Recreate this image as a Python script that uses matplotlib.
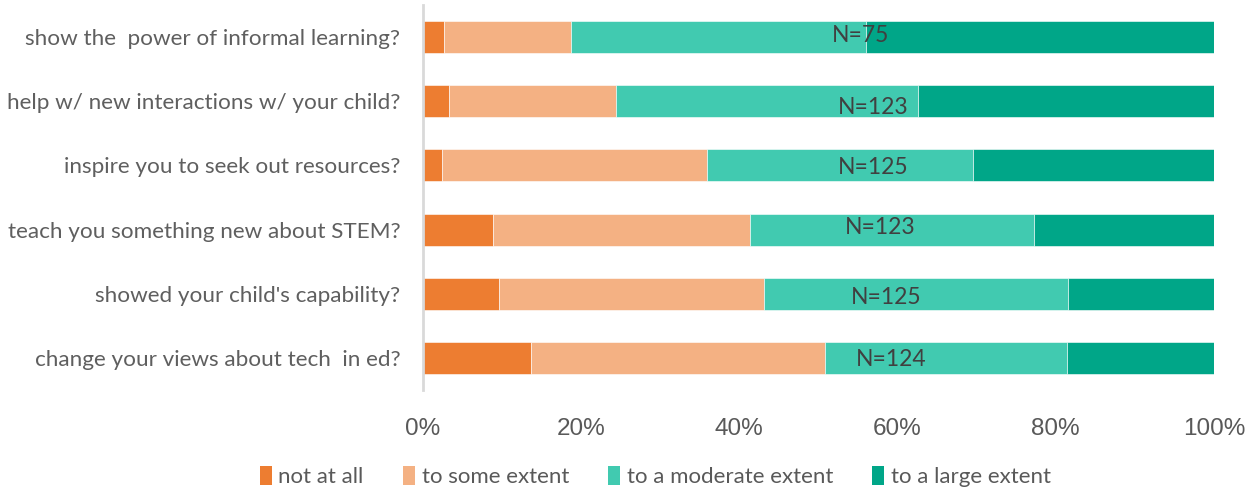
import matplotlib
matplotlib.use("Agg")
import matplotlib.pyplot as plt
from matplotlib.patches import Patch

questions = [
    "show the  power of informal learning?",
    "help w/ new interactions w/ your child?",
    "inspire you to seek out resources?",
    "teach you something new about STEM?",
    "showed your child's capability?",
    "change your views about tech  in ed?",
]
categories = ["not at all", "to some extent", "to a moderate extent", "to a large extent"]
not_at_all = [2.7, 3.3, 2.4, 8.9, 9.6, 13.7]
some_extent = [16.0, 21.1, 33.6, 32.5, 33.6, 37.1]
moderate_extent = [37.3, 38.2, 33.6, 35.8, 38.4, 30.6]
large_extent = [44.0, 37.4, 30.4, 22.8, 18.4, 18.6]
n_labels = ["N=75", "N=123", "N=125", "N=123", "N=125", "N=124"]
n_label_x = [55.3, 57.0, 57.0, 57.8, 58.6, 59.2]
n_label_dy = [-0.03, 0.09, 0.03, -0.03, 0.06, 0.02]
ticks = [0, 20, 40, 60, 80, 100]

colors = ["#ED7D31", "#F4B183", "#41CAB0", "#00A688"]
series = [not_at_all, some_extent, moderate_extent, large_extent]

fig = plt.figure(figsize=(12.55, 4.93), dpi=100)
ax = fig.add_axes([0.3367, 0.2089, 0.9673 - 0.3367, 0.9899 - 0.2089])

ypos = list(range(len(questions)))
left = [0.0] * len(questions)
for vals, col, name in zip(series, colors, categories):
    ax.barh(ypos, vals, left=left, height=0.5, color=col, label=name,
            edgecolor="white", linewidth=0.4)
    left = [l + v for l, v in zip(left, vals)]

for y, lab, x, dy in zip(ypos, n_labels, n_label_x, n_label_dy):
    ax.text(x, y + dy, lab, ha="center", va="center", fontsize=16.5,
            color="#404040", family="Lato")

ax.set_xlim(0, 100)
ax.set_ylim(5.5, -0.5)
ax.set_yticks(ypos)
ax.set_yticklabels(questions, family="Lato", fontsize=16.2, color="#5F5F5F")
ax.set_xticks(ticks)
ax.set_xticklabels([f"{t}%" for t in ticks], family="Liberation Sans",
                   fontsize=17.5, color="#595959")
ax.tick_params(axis="both", length=0)
ax.tick_params(axis="x", pad=20)
ax.tick_params(axis="y", pad=16)
for s in ["top", "right", "bottom"]:
    ax.spines[s].set_visible(False)
ax.spines["left"].set_color("#D9D9D9")
ax.spines["left"].set_linewidth(2)

handles = [Patch(facecolor=c, edgecolor="none") for c in colors]
fig.legend(handles, categories, loc="center left", bbox_to_anchor=(0.198, 0.033),
           ncol=4, frameon=False, prop={"family": "Lato", "size": 16},
           labelcolor="#595959", handlelength=0.55, handleheight=0.9,
           handletextpad=0.3, columnspacing=1.75, borderpad=0)

fig.savefig("out.png", dpi=100)
